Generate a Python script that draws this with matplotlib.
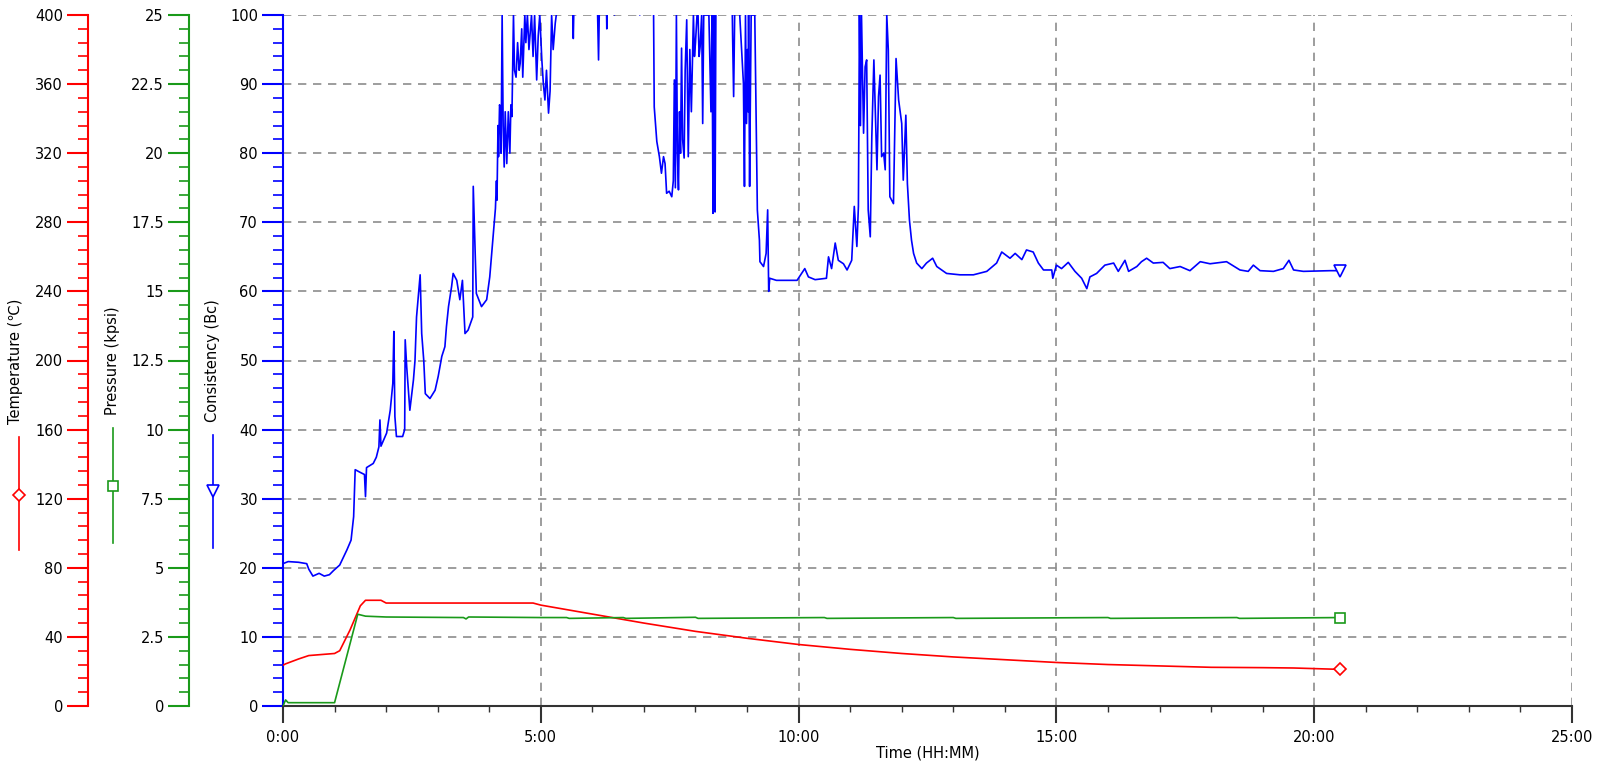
import matplotlib
matplotlib.use("Agg")
import matplotlib.pyplot as plt
from matplotlib.ticker import MultipleLocator, FuncFormatter
from matplotlib.lines import Line2D

plt.rcParams["font.family"] = ["DejaVu Sans"]
plt.rcParams["font.size"] = 10.5

# ---- data ----
# consistency (Bc), time in hours
cons_t = [0.0, 0.1, 0.3, 0.46, 0.5, 0.58, 0.7, 0.8, 0.9, 0.98, 1.1, 1.24, 1.32, 1.37, 1.40, 1.5, 1.58, 1.6, 1.62,
          1.75, 1.81, 1.86, 1.88, 1.9, 2.01, 2.08, 2.13, 2.15, 2.17, 2.2, 2.32, 2.36, 2.37, 2.4, 2.46, 2.53, 2.56,
          2.59, 2.66, 2.69, 2.73, 2.76, 2.85, 2.95, 3.01, 3.08, 3.14, 3.17, 3.21, 3.27, 3.30, 3.37, 3.43, 3.48,
          3.53, 3.59, 3.68, 3.69, 3.75, 3.85, 3.95, 4.01,
          4.08, 4.12, 4.14, 4.15, 4.17, 4.18, 4.2, 4.21, 4.23, 4.25, 4.27, 4.29, 4.31, 4.34, 4.37, 4.40, 4.42, 4.44,
          4.47, 4.49, 4.52, 4.55, 4.58, 4.60, 4.63, 4.65, 4.69, 4.71, 4.74, 4.77, 4.82, 4.85, 4.88, 4.92, 4.95,
          4.98, 5.02, 5.05, 5.08, 5.11, 5.15, 5.18, 5.21, 5.24, 5.28, 5.3, 5.35,
          5.6, 5.63, 5.66, 6.08, 6.12, 6.15, 6.26, 6.28, 6.3, 6.43, 6.5, 6.9, 6.92, 6.95, 7.18,
          7.2, 7.25, 7.3, 7.34, 7.38, 7.41, 7.44, 7.49, 7.54, 7.57, 7.59, 7.61, 7.63, 7.65, 7.67, 7.69, 7.71, 7.73,
          7.75, 7.78, 7.8, 7.83, 7.86, 7.88, 7.89, 7.92, 7.96, 7.98, 8.0, 8.03, 8.05, 8.07, 8.09, 8.12, 8.14,
          8.16, 8.19, 8.26, 8.3, 8.32, 8.34, 8.35, 8.36, 8.37, 8.38, 8.40, 8.7, 8.72, 8.74, 8.76, 8.8, 8.93,
          8.95, 8.97, 8.99, 9.0, 9.01, 9.02, 9.03, 9.05, 9.06, 9.08,
          9.15, 9.2, 9.24, 9.25, 9.32, 9.37, 9.40, 9.42, 9.44, 9.57, 9.64, 9.97, 10.12, 10.19, 10.32, 10.54,
          10.58, 10.64, 10.71, 10.77, 10.87, 10.94, 11.03, 11.08, 11.13, 11.16, 11.18, 11.2, 11.22, 11.26, 11.29,
          11.32, 11.35, 11.39, 11.42, 11.46, 11.52, 11.55, 11.58, 11.61, 11.65, 11.68, 11.71, 11.74, 11.77,
          11.84, 11.89, 11.94, 12.0, 12.03, 12.08, 12.11, 12.15, 12.19, 12.23, 12.29, 12.39, 12.48, 12.6,
          12.68, 12.87, 13.13, 13.39, 13.65, 13.84, 13.94, 14.1, 14.2, 14.33, 14.42, 14.55, 14.65, 14.75,
          14.91, 14.93, 15.0, 15.1, 15.23, 15.36, 15.49, 15.59, 15.65, 15.78, 15.94, 16.11, 16.2, 16.33, 16.4,
          16.56, 16.65, 16.75, 16.88, 17.07, 17.2, 17.4, 17.59, 17.79, 17.98, 18.3, 18.56, 18.72, 18.82,
          18.95, 19.21, 19.4, 19.51, 19.6, 19.79, 20.31, 20.5]
cons_v = [20.6, 20.9, 20.8, 20.6, 19.8, 18.8, 19.2, 18.8, 19.0, 19.6, 20.4, 22.6, 24.0, 27.4, 34.2, 33.8, 33.5, 30.3, 34.5,
          35.1, 36.0, 37.5, 41.4, 37.6, 39.5, 42.8, 46.7, 54.2, 41.9, 39.0, 39.0, 40.0, 53.0, 49.0, 42.8, 47.2, 50.0,
          56.3, 62.4, 53.9, 50.0, 45.2, 44.5, 45.7, 47.7, 50.6, 52.0, 54.9, 57.8, 60.7, 62.6, 61.6, 58.8, 61.6,
          53.9, 54.4, 56.3, 75.2, 59.7, 57.8, 58.8, 62.1,
          68.4, 72.0, 76.0, 73.2, 84.0, 79.5, 87.0, 86.7, 80.0, 100, 84.0, 78.0, 86.0, 78.5, 86.0, 80.0, 87.0, 85.3,
          100, 92.0, 91.0, 96.0, 92.0, 93.0, 98.0, 91.0, 100, 96.0, 100, 95.0, 100, 94.0, 100, 90.6, 97.0,
          100, 93.5, 90.0, 87.7, 92.0, 85.8, 89.0, 100, 95.0, 98.8, 100, 108,
          108, 96.6, 108, 108, 93.5, 108, 108, 98.0, 108, 100, 108, 108, 100, 108, 108,
          86.7, 81.7, 79.5, 77.1, 79.5, 78.5, 74.2, 74.5, 73.7, 76.0, 90.6, 75.0, 100, 80.0, 74.7, 86.0, 80.0, 95.2,
          82.0, 79.3, 92.0, 99.3, 79.5, 90.0, 95.0, 86.0, 100, 94.0, 96.0, 100, 100, 94.0, 95.4, 100, 84.3,
          100, 100, 100, 86.0, 100, 71.3, 100, 72.0, 100, 71.5, 108, 108, 97.0, 88.2, 100, 108, 90.1,
          75.2, 100, 84.3, 89.9, 95.0, 86.0, 100, 75.2, 84.3, 100,
          100, 71.8, 67.4, 64.3, 63.6, 65.5, 71.8, 60.0, 61.9, 61.6, 61.6, 61.6, 63.3, 62.1, 61.7, 61.9,
          65.0, 63.3, 67.0, 64.5, 64.0, 63.1, 64.5, 72.3, 66.5, 72.3, 100, 84.0, 100, 82.9, 92.5,
          93.5, 71.8, 67.9, 82.4, 93.5, 77.6, 88.2, 91.3, 79.5, 80.0, 77.6, 100, 94.9, 73.7,
          72.7, 93.7, 87.7, 84.3, 76.1, 85.5, 75.6, 70.3, 67.4, 65.5, 64.1, 63.3, 64.1, 64.8,
          63.6, 62.6, 62.4, 62.4, 62.9, 64.1, 65.7, 64.8, 65.5, 64.6, 66.0, 65.7, 64.1, 63.1,
          63.1, 61.9, 63.8, 63.3, 64.2, 62.9, 61.9, 60.4, 62.1, 62.6, 63.8, 64.1, 62.9, 64.5, 62.9,
          63.6, 64.3, 64.8, 64.1, 64.2, 63.3, 63.6, 63.0, 64.3, 64.0, 64.3, 63.1, 62.9, 63.8,
          63.0, 62.9, 63.3, 64.5, 63.1, 62.9, 63.0, 63.0]

# temperature (deg C)
temp_t = [0.0, 0.05, 0.3, 0.5, 1.0, 1.1, 1.3, 1.5, 1.6, 1.9, 2.0, 4.85, 5.0, 6.0, 7.0, 8.0, 9.0, 10.0, 11.0,
          12.0, 13.0, 14.0, 15.0, 16.0, 17.0, 18.0, 19.0, 19.6, 20.5]
temp_v = [23.6, 24.4, 27.2, 29.2, 30.4, 32.0, 44.0, 58.0, 61.2, 61.2, 59.6, 59.6, 58.4, 53.2, 48.0, 43.2, 39.2,
          35.6, 32.8, 30.4, 28.4, 26.8, 25.2, 24.0, 23.2, 22.4, 22.2, 22.0, 21.2]

# pressure (kpsi)
pres_t = [0.0, 0.05, 0.1, 1.0, 1.45, 1.6, 2.0, 3.5, 3.55, 3.6, 5.0, 5.5, 5.55, 6.6, 6.65, 8.0, 8.05, 10.5,
          10.55, 13.0, 13.05, 16.0, 16.05, 18.5, 18.55, 20.5]
pres_v = [0.0, 0.22, 0.12, 0.12, 3.32, 3.25, 3.22, 3.2, 3.15, 3.22, 3.2, 3.2, 3.17, 3.2, 3.17, 3.21, 3.17, 3.2,
          3.17, 3.2, 3.17, 3.2, 3.17, 3.2, 3.17, 3.2]

# ---- layout ----
W, H = 1599, 762
fig = plt.figure(figsize=(W / 100, H / 100), dpi=100)
ax = fig.add_axes([283 / W, (H - 706) / H, (1572 - 283) / W, (706 - 15) / H])

red = "#ff0000"
green = "#1a9a1a"
blue = "#0000ff"

ax.set_xlim(0, 25)
ax.set_ylim(0, 100)
ax.xaxis.set_major_locator(MultipleLocator(5))
ax.xaxis.set_minor_locator(MultipleLocator(1))
ax.xaxis.set_major_formatter(FuncFormatter(lambda v, p: "%d:00" % v))
ax.yaxis.set_major_locator(MultipleLocator(10))
ax.yaxis.set_minor_locator(MultipleLocator(2))
ax.grid(True, which="major", color="#8c8c8c", linestyle=(0, (5, 4)), linewidth=1.2)
ax.set_axisbelow(True)
for s in ["top", "right"]:
    ax.spines[s].set_visible(False)
ax.spines["left"].set_color(blue)
ax.spines["left"].set_linewidth(1.5)
ax.spines["bottom"].set_color("#333333")
ax.spines["bottom"].set_linewidth(1.5)
ax.tick_params(axis="y", which="major", length=15, width=1.5, color=blue, pad=3)
ax.tick_params(axis="y", which="minor", length=7, width=1.2, color=blue)
ax.tick_params(axis="x", which="major", length=12, width=1.5, color="#333333", pad=5)
ax.tick_params(axis="x", which="minor", length=4, width=1.0, color="#333333")
ax.set_xlabel("Time (HH:MM)", labelpad=1)

# extra left axes for temperature and pressure
def left_axis(offset, top, major, minor, color):
    a = ax.twinx()
    a.set_ylim(0, top)
    a.spines["right"].set_visible(False)
    a.spines["top"].set_visible(False)
    a.spines["bottom"].set_visible(False)
    a.spines["left"].set_visible(True)
    a.spines["left"].set_position(("axes", offset))
    a.spines["left"].set_color(color)
    a.spines["left"].set_linewidth(1.5)
    a.yaxis.set_ticks_position("left")
    a.yaxis.set_label_position("left")
    a.yaxis.set_major_locator(MultipleLocator(major))
    a.yaxis.set_minor_locator(MultipleLocator(minor))
    a.tick_params(axis="y", which="major", length=15, width=1.5, color=color, pad=3)
    a.tick_params(axis="y", which="minor", length=7, width=1.2, color=color)
    return a

axT = left_axis((88 - 283) / 1289, 400, 40, 8, red)
axP = left_axis((189 - 283) / 1289, 25, 2.5, 0.5, green)
axP.yaxis.set_major_formatter(FuncFormatter(lambda v, p: ("%g" % v)))

ax.plot(cons_t, cons_v, color=blue, lw=1.2)
axT.plot(temp_t, temp_v, color=red, lw=1.2)
axP.plot(pres_t, pres_v, color=green, lw=1.2)

# end markers
ax.plot(cons_t[-1], cons_v[-1], marker="v", ms=8, mfc="white", mec=blue, mew=1.2, clip_on=False)
axT.plot(temp_t[-1], temp_v[-1], marker="D", ms=6.5, mfc="white", mec=red, mew=1.2)
axP.plot(pres_t[-1], pres_v[-1], marker="s", ms=7, mfc="white", mec=green, mew=1.2)

# axis titles with their legend keys
labels = [("Temperature (℃)", 16, 19, 437, 550, 495, "D", red, 6.5),
          ("Pressure (kpsi)", 112, 113, 428, 543, 486, "s", green, 7),
          ("Consistency (Bc)", 212, 213, 435, 548, 491, "v", blue, 8)]
for txt, tx, lx, y1, y2, ym, mk, c, ms in labels:
    fig.text(tx / W, 1 - 361 / H, txt, rotation=90, ha="center", va="center", fontsize=10.5)
    fig.add_artist(Line2D([lx / W, lx / W], [1 - y1 / H, 1 - y2 / H], color=c, lw=1.2,
                          transform=fig.transFigure))
    fig.add_artist(Line2D([lx / W], [1 - ym / H], marker=mk, ms=ms, mfc="white", mec=c, mew=1.2,
                          transform=fig.transFigure))

fig.savefig("out.png", dpi=100)
